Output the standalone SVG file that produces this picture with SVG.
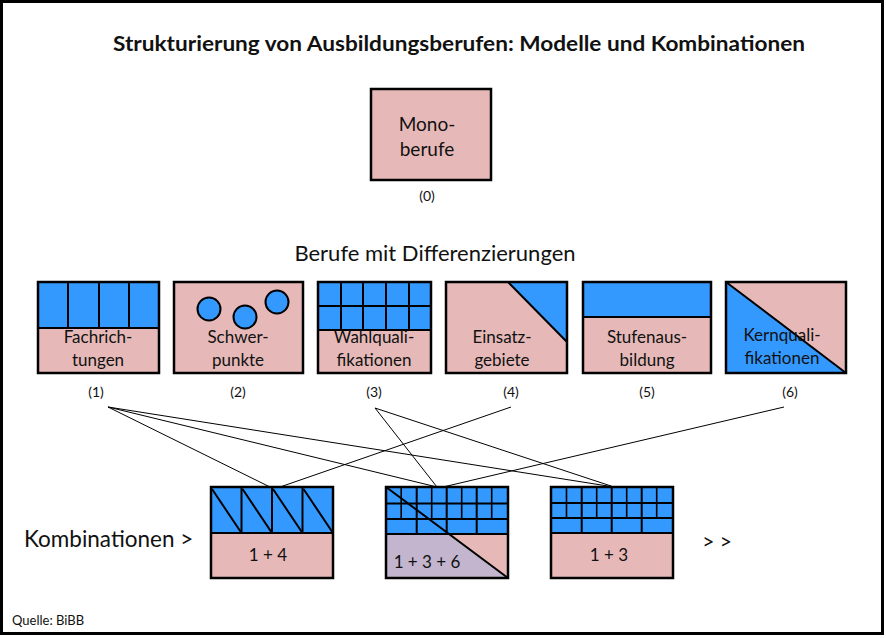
<svg xmlns="http://www.w3.org/2000/svg" width="886" height="638" viewBox="0 0 886 638">
<style>
.pink{fill:#E6B9B8}
.blue{fill:#3399FF}
.lav{fill:#C2B5CD}
.frame{fill:none;stroke:#000;stroke-width:2.5}
.div{stroke:#000;stroke-width:2;fill:none}
.thin{stroke:#000;stroke-width:1.6;fill:none}
.conn{stroke:#000;stroke-width:1;fill:none}
text{font-family:Lato,"Open Sans","Liberation Sans",sans-serif;fill:#111}
.t{font-size:17px;text-anchor:middle}
.n{font-size:14px;text-anchor:middle}
.c{font-size:17px;text-anchor:middle}
</style>
<rect x="0" y="0" width="886" height="638" fill="#fff"/>
<rect x="1.5" y="1.5" width="881" height="632" fill="none" stroke="#000" stroke-width="3"/>

<text id="title" x="459" y="51" font-size="20" font-weight="bold" text-anchor="middle" textLength="692" lengthAdjust="spacingAndGlyphs">Strukturierung von Ausbildungsberufen: Modelle und Kombinationen</text>

<g id="node0">
<rect class="pink" x="371" y="89" width="120" height="91"/>
<rect class="frame" x="371" y="89" width="120" height="91"/>
<text x="427" y="131" font-size="19" text-anchor="middle">Mono-</text>
<text x="427" y="156" font-size="19" text-anchor="middle">berufe</text>
<text class="n" x="427" y="201">(0)</text>
</g>

<text id="subtitle" x="435" y="261" font-size="22" text-anchor="middle">Berufe mit Differenzierungen</text>

<g id="node1">
<rect class="pink" x="38" y="282" width="121" height="91"/>
<rect class="blue" x="38" y="282" width="121" height="46"/>
<path class="div" d="M38 328H159M68 282V328M99 282V328M129 282V328"/>
<rect class="frame" x="38" y="282" width="121" height="91"/>
<text class="t" x="98" y="343">Fachrich-</text>
<text class="t" x="98" y="366">tungen</text>
<text class="n" x="96" y="397">(1)</text>
</g>

<g id="node2">
<rect class="pink" x="174" y="282" width="129" height="91"/>
<circle class="blue" cx="209" cy="309" r="11.5" stroke="#000" stroke-width="2"/>
<circle class="blue" cx="245" cy="317" r="11.5" stroke="#000" stroke-width="2"/>
<circle class="blue" cx="277" cy="302" r="11.5" stroke="#000" stroke-width="2"/>
<rect class="frame" x="174" y="282" width="129" height="91"/>
<text class="t" x="238" y="343">Schwer-</text>
<text class="t" x="238" y="366">punkte</text>
<text class="n" x="238" y="397">(2)</text>
</g>

<g id="node3">
<rect class="pink" x="318" y="282" width="113" height="91"/>
<rect class="blue" x="318" y="282" width="113" height="48"/>
<path class="div" d="M318 306H431M318 330H431M341 282V330M363 282V330M386 282V330M409 282V330"/>
<rect class="frame" x="318" y="282" width="113" height="91"/>
<text class="t" x="374" y="343">Wahlquali-</text>
<text class="t" x="374" y="366">fikationen</text>
<text class="n" x="374" y="397">(3)</text>
</g>

<g id="node4">
<rect class="pink" x="446" y="282" width="121" height="91"/>
<polygon class="blue" points="508,282 567,282 567,342"/>
<path class="div" d="M508 282L567 342"/>
<rect class="frame" x="446" y="282" width="121" height="91"/>
<text class="t" x="502" y="343">Einsatz-</text>
<text class="t" x="502" y="366">gebiete</text>
<text class="n" x="511" y="397">(4)</text>
</g>

<g id="node5">
<rect class="pink" x="583" y="282" width="128" height="91"/>
<rect class="blue" x="583" y="282" width="128" height="35"/>
<path class="div" d="M583 317H711"/>
<rect class="frame" x="583" y="282" width="128" height="91"/>
<text class="t" x="647" y="343">Stufenaus-</text>
<text class="t" x="647" y="366">bildung</text>
<text class="n" x="647" y="397">(5)</text>
</g>

<g id="node6">
<rect class="pink" x="726" y="282" width="120" height="91"/>
<polygon class="blue" points="726,282 726,373 846,373"/>
<path class="div" d="M726 282L846 373"/>
<rect class="frame" x="726" y="282" width="120" height="91"/>
<text class="t" x="782" y="341">Kernquali-</text>
<text class="t" x="782" y="364">fikationen</text>
<text class="n" x="790" y="397">(6)</text>
</g>

<g id="connectors">
<path class="conn" d="M108 407L270 487M108 407L437 487M108 407L614 487"/>
<path class="conn" d="M375 408L437 487M375 408L614 487"/>
<path class="conn" d="M511 407L280 487"/>
<path class="conn" d="M784 407L443 487"/>
</g>

<text id="kombi" x="24" y="547" font-size="22.5">Kombinationen &gt;</text>

<g id="combo1">
<rect class="pink" x="211" y="487" width="122" height="91"/>
<rect class="blue" x="211" y="487" width="122" height="46"/>
<path class="div" d="M211 533H333M241.5 487V533M272 487V533M302.5 487V533"/>
<path class="div" d="M212 489L241.5 533M242.5 489L272 533M273 489L302.5 533M303.5 489L333 533"/>
<rect class="frame" x="211" y="487" width="122" height="91"/>
<text class="c" x="268" y="561">1 + 4</text>
</g>

<g id="combo2">
<rect class="pink" x="386" y="487" width="122" height="91"/>
<polygon class="lav" points="386,534 448,534 508,578 386,578"/>
<rect class="blue" x="386" y="487" width="122" height="47"/>
<path class="thin" d="M401.2 487V519M431.7 487V519M461.7 487V519M491.7 487V519"/>
<path class="div" d="M386 503.5H508M386 519H508M386 534H508M416.7 487V534M446.7 487V534M476.7 487V534"/>
<path class="div" d="M386 487L508 578"/>
<rect class="frame" x="386" y="487" width="122" height="91"/>
<text class="c" x="427" y="568">1 + 3 + 6</text>
</g>

<g id="combo3">
<rect class="pink" x="551" y="487" width="122" height="91"/>
<rect class="blue" x="551" y="487" width="122" height="46"/>
<path class="thin" d="M566.5 487V518M596.7 487V518M626.7 487V518M656.7 487V518"/>
<path class="div" d="M551 503H673M551 518H673M551 533H673M581.7 487V533M611.7 487V533M641.7 487V533"/>
<rect class="frame" x="551" y="487" width="122" height="91"/>
<text class="c" x="609" y="561">1 + 3</text>
</g>

<text id="more" x="717" y="549" font-size="21" text-anchor="middle">&gt; &gt;</text>

<text id="source" x="12" y="625" font-size="13">Quelle: BiBB</text>
</svg>
